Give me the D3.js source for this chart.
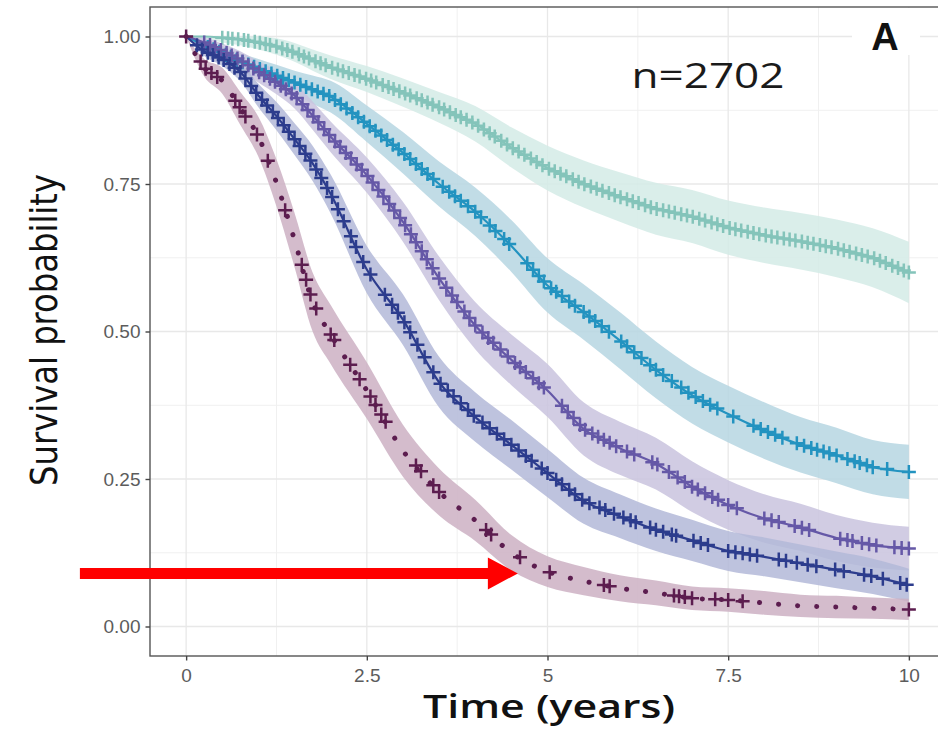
<!DOCTYPE html>
<html>
<head>
<meta charset="utf-8">
<script src="https://cdn.jsdelivr.net/npm/d3@7"></script>
<style>
  body { margin: 0; background: #fff; }
  svg { display: block; }
</style>
</head>
<body>
<svg id="chart"></svg>
<script>
// time grid (years) shared by all curves
const times = [0, 0.25, 0.5, 0.75, 1, 1.25, 1.5, 1.75, 2, 2.5, 3, 3.5, 4, 4.5, 5, 5.5, 6, 6.5, 7, 7.5, 8, 8.5, 9, 9.5, 10];

// survival estimates
const survMint   = [1, 1, 0.998, 0.995, 0.99, 0.983, 0.973, 0.96, 0.948, 0.928, 0.905, 0.88, 0.852, 0.812, 0.777, 0.75, 0.728, 0.708, 0.695, 0.676, 0.663, 0.653, 0.641, 0.625, 0.6];
const survCyan   = [1, 0.985, 0.972, 0.958, 0.946, 0.934, 0.922, 0.91, 0.898, 0.852, 0.803, 0.75, 0.703, 0.645, 0.578, 0.533, 0.485, 0.435, 0.392, 0.36, 0.332, 0.308, 0.29, 0.27, 0.262];
const survPurple = [1, 0.99, 0.976, 0.96, 0.94, 0.922, 0.9, 0.866, 0.83, 0.765, 0.686, 0.59, 0.51, 0.452, 0.4, 0.335, 0.302, 0.276, 0.237, 0.206, 0.183, 0.168, 0.15, 0.138, 0.132];
const survNavy   = [1, 0.975, 0.962, 0.94, 0.9, 0.865, 0.826, 0.785, 0.733, 0.605, 0.52, 0.414, 0.355, 0.308, 0.26, 0.213, 0.187, 0.164, 0.146, 0.128, 0.118, 0.107, 0.096, 0.085, 0.07];
const survMaroon = [1, 0.947, 0.925, 0.878, 0.83, 0.752, 0.655, 0.55, 0.495, 0.4, 0.298, 0.228, 0.18, 0.125, 0.093, 0.077, 0.065, 0.057, 0.048, 0.045, 0.04, 0.035, 0.033, 0.031, 0.029];

// half width of the confidence band
const bandMint   = [0, 0.004, 0.008, 0.01, 0.012, 0.014, 0.016, 0.018, 0.02, 0.022, 0.024, 0.026, 0.03, 0.034, 0.038, 0.04, 0.042, 0.044, 0.045, 0.046, 0.047, 0.048, 0.049, 0.05, 0.052];
const bandCyan   = [0, 0.008, 0.012, 0.014, 0.016, 0.018, 0.02, 0.024, 0.027, 0.031, 0.035, 0.038, 0.041, 0.044, 0.046, 0.047, 0.048, 0.048, 0.048, 0.048, 0.048, 0.047, 0.047, 0.046, 0.046];
const bandPurple = [0, 0.008, 0.012, 0.015, 0.018, 0.02, 0.022, 0.024, 0.026, 0.03, 0.034, 0.037, 0.04, 0.043, 0.045, 0.045, 0.045, 0.044, 0.043, 0.042, 0.041, 0.04, 0.039, 0.038, 0.037];
const bandNavy   = [0, 0.008, 0.012, 0.016, 0.02, 0.024, 0.027, 0.03, 0.033, 0.04, 0.043, 0.043, 0.042, 0.042, 0.041, 0.039, 0.037, 0.036, 0.035, 0.034, 0.033, 0.032, 0.031, 0.03, 0.028];
const bandMaroon = [0, 0.015, 0.022, 0.028, 0.034, 0.04, 0.046, 0.05, 0.05, 0.048, 0.044, 0.04, 0.035, 0.03, 0.026, 0.024, 0.022, 0.021, 0.02, 0.02, 0.02, 0.019, 0.019, 0.018, 0.018];

// censoring times
const censorMint = [0.5, 0.58, 0.64, 0.72, 0.8, 0.86, 0.95, 1.02, 1.1, 1.16, 1.25, 1.33, 1.4, 1.47, 1.56, 1.63, 1.7, 1.79, 1.86, 1.93, 2.02, 2.1, 2.17, 2.25, 2.33, 2.4, 2.49, 2.56, 2.63, 2.72, 2.8, 2.87, 2.95, 3.03, 3.1, 3.19, 3.26, 3.34, 3.41, 3.5, 3.57, 3.65, 3.73, 3.8, 3.88, 3.96, 4.04, 4.12, 4.2, 4.27, 4.36, 4.44, 4.52, 4.6, 4.68, 4.77, 4.85, 4.93, 5.02, 5.1, 5.18, 5.26, 5.35, 5.43, 5.51, 5.6, 5.68, 5.76, 5.85, 5.93, 6.01, 6.1, 6.18, 6.26, 6.35, 6.43, 6.51, 6.6, 6.68, 6.76, 6.85, 6.93, 7.01, 7.1, 7.18, 7.27, 7.35, 7.43, 7.52, 7.6, 7.68, 7.77, 7.85, 7.93, 8.02, 8.1, 8.18, 8.27, 8.35, 8.43, 8.52, 8.6, 8.68, 8.77, 8.85, 8.93, 9.02, 9.1, 9.18, 9.27, 9.35, 9.43, 9.52, 9.6, 9.68, 9.77, 9.85, 9.93, 10];
const censorCyan = [0.3, 0.38, 0.46, 0.55, 0.62, 0.7, 0.78, 0.86, 0.94, 1.02, 1.1, 1.18, 1.26, 1.34, 1.42, 1.5, 1.58, 1.66, 1.74, 1.82, 1.9, 1.98, 2.06, 2.14, 2.22, 2.3, 2.38, 2.46, 2.54, 2.62, 2.7, 2.78, 2.86, 2.94, 3.02, 3.1, 3.18, 3.26, 3.34, 3.42, 3.55, 3.64, 3.72, 3.8, 3.9, 4.0, 4.08, 4.2, 4.28, 4.4, 4.47, 4.72, 4.8, 4.88, 4.95, 5.05, 5.12, 5.2, 5.3, 5.38, 5.5, 5.58, 5.66, 5.75, 5.85, 6.02, 6.1, 6.2, 6.3, 6.42, 6.5, 6.6, 6.72, 6.85, 6.95, 7.05, 7.15, 7.25, 7.35, 7.57, 7.85, 7.95, 8.05, 8.15, 8.25, 8.45, 8.55, 8.65, 8.73, 8.82, 8.9, 9.0, 9.15, 9.25, 9.32, 9.42, 9.5, 9.7, 10];
const censorPurple = [0.25, 0.33, 0.4, 0.48, 0.56, 0.63, 0.71, 0.78, 0.86, 0.93, 1.01, 1.08, 1.16, 1.23, 1.31, 1.38, 1.46, 1.53, 1.61, 1.68, 1.76, 1.83, 1.91, 1.98, 2.06, 2.13, 2.21, 2.28, 2.36, 2.43, 2.51, 2.58, 2.66, 2.73, 2.81, 2.88, 2.96, 3.03, 3.11, 3.18, 3.26, 3.33, 3.41, 3.5, 3.6, 3.68, 3.75, 3.85, 3.92, 4.0, 4.1, 4.18, 4.25, 4.35, 4.45, 4.55, 4.62, 4.7, 4.8, 4.88, 4.95, 5.2, 5.28, 5.36, 5.45, 5.52, 5.62, 5.7, 5.78, 5.86, 5.95, 6.1, 6.2, 6.45, 6.52, 6.68, 6.8, 6.9, 7.0, 7.08, 7.18, 7.28, 7.36, 7.5, 7.62, 8.0, 8.1, 8.2, 8.42, 8.52, 8.62, 9.05, 9.15, 9.22, 9.35, 9.45, 9.55, 9.8, 9.9, 10];
const censorNavy = [0.15, 0.22, 0.3, 0.37, 0.45, 0.52, 0.6, 0.67, 0.75, 0.82, 0.9, 0.97, 1.05, 1.12, 1.2, 1.27, 1.35, 1.42, 1.5, 1.57, 1.65, 1.72, 1.8, 1.87, 1.95, 2.02, 2.1, 2.18, 2.28, 2.35, 2.45, 2.55, 2.75, 2.85, 2.93, 3.02, 3.1, 3.2, 3.3, 3.42, 3.52, 3.62, 3.7, 3.8, 3.9, 3.98, 4.1, 4.2, 4.3, 4.4, 4.5, 4.6, 4.7, 4.78, 4.92, 5.0, 5.12, 5.2, 5.3, 5.38, 5.48, 5.58, 5.72, 5.8, 5.92, 6.05, 6.15, 6.22, 6.42, 6.5, 6.6, 6.72, 6.78, 7.02, 7.12, 7.22, 7.5, 7.6, 7.7, 7.8, 7.9, 8.2, 8.3, 8.45, 8.6, 8.72, 8.98, 9.1, 9.38, 9.48, 9.64, 9.88, 9.97];
const censorMaroon = [0, 0.2, 0.27, 0.35, 0.43, 0.68, 0.74, 0.82, 0.98, 1.13, 1.37, 1.6, 1.66, 1.72, 1.8, 2.0, 2.05, 2.27, 2.4, 2.55, 2.62, 2.7, 2.76, 3.18, 3.25, 3.42, 3.5, 4.15, 4.22, 4.62, 5.03, 5.78, 5.86, 6.75, 6.82, 6.9, 7.0, 7.32, 7.5, 7.7, 10];

const xTicks = [0, 2.5, 5, 7.5, 10];
const xTickLabels = ["0", "2.5", "5", "7.5", "10"];
const xMinor = [1.25, 3.75, 6.25, 8.75];
const yTicks = [0, 0.25, 0.5, 0.75, 1];
const yTickLabels = ["0.00", "0.25", "0.50", "0.75", "1.00"];
const yMinor = [0.125, 0.375, 0.625, 0.875];

// red arrow annotation, in data units (time, survival)
const arrowFrom = [-1.47, 0.09];
const arrowTo = [4.59, 0.09];

const groups = [
  { surv: survMint,   band: bandMint,   censor: censorMint,   line: "#84c4ba", fill: "#d3ebe6", dash: null },
  { surv: survCyan,   band: bandCyan,   censor: censorCyan,   line: "#2393c0", fill: "#b6d6e2", dash: null },
  { surv: survPurple, band: bandPurple, censor: censorPurple, line: "#6558a7", fill: "#c9c3de", dash: null },
  { surv: survNavy,   band: bandNavy,   censor: censorNavy,   line: "#2c3c8d", fill: "#b3b8d8", dash: null },
  { surv: survMaroon, band: bandMaroon, censor: censorMaroon, line: "#5c1d4f", fill: "#cdb0c3", dash: "0.1 19" }
];

const width = 938;
const height = 729;

// scales (ggplot style 5% expansion)
const x = d3.scaleLinear([-0.5, 10.5], [150, 945]);
const y = d3.scaleLinear([-0.05, 1.05], [656, 7]);

const svg = d3.select("#chart")
  .attr("width", width)
  .attr("height", height)
  .attr("viewBox", [0, 0, width, height]);

svg.append("defs").append("clipPath").attr("id", "panel")
  .append("rect").attr("x", 150).attr("y", 7).attr("width", 795).attr("height", 649);

// grid
const grid = svg.append("g");
grid.selectAll(".xminor").data(xMinor).join("line")
  .attr("x1", d => x(d)).attr("x2", d => x(d)).attr("y1", 7).attr("y2", 656)
  .attr("stroke", "#f0f0f0").attr("stroke-width", 1);
grid.selectAll(".yminor").data(yMinor).join("line")
  .attr("y1", d => y(d)).attr("y2", d => y(d)).attr("x1", 150).attr("x2", 945)
  .attr("stroke", "#f0f0f0").attr("stroke-width", 1);
grid.selectAll(".xmajor").data(xTicks).join("line")
  .attr("x1", d => x(d)).attr("x2", d => x(d)).attr("y1", 7).attr("y2", 656)
  .attr("stroke", "#e8e8e8").attr("stroke-width", 1.3);
grid.selectAll(".ymajor").data(yTicks).join("line")
  .attr("y1", d => y(d)).attr("y2", d => y(d)).attr("x1", 150).attr("x2", 945)
  .attr("stroke", "#e8e8e8").attr("stroke-width", 1.3);

const plot = svg.append("g").attr("clip-path", "url(#panel)");

const rows = g => times.map((t, i) => ({ t, s: g.surv[i], w: g.band[i] }));

const area = d3.area()
  .x(d => x(d.t))
  .y0(d => y(Math.max(0, d.s - d.w)))
  .y1(d => y(Math.min(1, d.s + d.w)))
  .curve(d3.curveMonotoneX);

const line = d3.line()
  .x(d => x(d.t))
  .y(d => y(d.s))
  .curve(d3.curveMonotoneX);

// survival value at time t (for placing censor marks on the curve)
function survAt(g, t) {
  const i = d3.bisectRight(times, t);
  if (i <= 0) return g.surv[0];
  if (i >= times.length) return g.surv[times.length - 1];
  const f = (t - times[i - 1]) / (times[i] - times[i - 1]);
  return g.surv[i - 1] + f * (g.surv[i] - g.surv[i - 1]);
}

// bands
groups.forEach(g => {
  plot.append("path").datum(rows(g))
    .attr("d", area)
    .attr("fill", g.fill)
    .attr("fill-opacity", 0.85);
});

// lines
groups.forEach(g => {
  const p = plot.append("path").datum(rows(g))
    .attr("d", line)
    .attr("fill", "none")
    .attr("stroke", g.line);
  if (g.dash) {
    p.attr("stroke-width", 5).attr("stroke-dasharray", g.dash).attr("stroke-linecap", "round");
  } else {
    p.attr("stroke-width", 2.2);
  }
});

// censor marks
groups.forEach(g => {
  plot.append("g").selectAll("path").data(g.censor).join("path")
    .attr("transform", d => `translate(${x(d)},${y(survAt(g, d))})`)
    .attr("d", "M-7,0H7M0,-7V7")
    .attr("stroke", g.line)
    .attr("stroke-width", 2.5)
    .attr("fill", "none");
});

// panel border
svg.append("rect")
  .attr("x", 150).attr("y", 7).attr("width", 795).attr("height", 649)
  .attr("fill", "none").attr("stroke", "#555").attr("stroke-width", 1.4);

// axes
const xAxis = svg.append("g")
  .attr("transform", "translate(0,656)")
  .call(d3.axisBottom(x).tickValues(xTicks).tickFormat((d, i) => xTickLabels[i]).tickSize(4.5).tickPadding(5));
const yAxis = svg.append("g")
  .attr("transform", "translate(150,0)")
  .call(d3.axisLeft(y).tickValues(yTicks).tickFormat((d, i) => yTickLabels[i]).tickSize(4.5).tickPadding(5));
[xAxis, yAxis].forEach(a => {
  a.select(".domain").remove();
  a.selectAll(".tick line").attr("stroke", "#444").attr("stroke-width", 1.4);
  a.selectAll(".tick text")
    .attr("fill", "#5c5c5c")
    .style("font-family", "'Liberation Sans', Arial, sans-serif")
    .style("font-size", "19px");
});
xAxis.selectAll(".tick text").attr("dy", "0.85em");

// axis titles
svg.append("text")
  .attr("transform", "translate(57,330) rotate(-90)")
  .attr("text-anchor", "middle")
  .attr("textLength", 312)
  .attr("lengthAdjust", "spacingAndGlyphs")
  .style("font-family", "'Liberation Sans Narrow', 'DejaVu Sans Condensed', sans-serif")
  .style("font-size", "38px")
  .attr("fill", "#111")
  .text("Survival probability");

svg.append("text")
  .attr("x", 549).attr("y", 718)
  .attr("text-anchor", "middle")
  .attr("textLength", 252)
  .attr("lengthAdjust", "spacingAndGlyphs")
  .style("font-family", "'Open Sans', sans-serif")
  .style("font-size", "32px")
  .style("font-weight", 600)
  .attr("fill", "#111")
  .text("Time (years)");

// annotations
svg.append("text")
  .attr("x", 708).attr("y", 88)
  .attr("text-anchor", "middle")
  .attr("textLength", 153)
  .attr("lengthAdjust", "spacingAndGlyphs")
  .style("font-family", "'Open Sans', sans-serif")
  .style("font-size", "34px")
  .attr("fill", "#1a1a1a")
  .text("n=2702");

svg.append("rect")
  .attr("x", 852).attr("y", 8).attr("width", 68).attr("height", 47)
  .attr("fill", "#fff");
svg.append("text")
  .attr("x", 885).attr("y", 50)
  .attr("text-anchor", "middle")
  .style("font-family", "'Liberation Sans', Arial, sans-serif")
  .style("font-size", "38px")
  .style("font-weight", "bold")
  .attr("fill", "#111")
  .text("A");

// red arrow
const ax0 = x(arrowFrom[0]), ay = y(arrowFrom[1]), ax1 = x(arrowTo[0]);
const headLen = 30, headHalf = 16, shaftHalf = 5.5;
svg.append("path")
  .attr("d", `M${ax0},${ay - shaftHalf}H${ax1 - headLen}V${ay - headHalf}L${ax1},${ay}L${ax1 - headLen},${ay + headHalf}V${ay + shaftHalf}H${ax0}Z`)
  .attr("fill", "#ff0000");
</script>
</body>
</html>
